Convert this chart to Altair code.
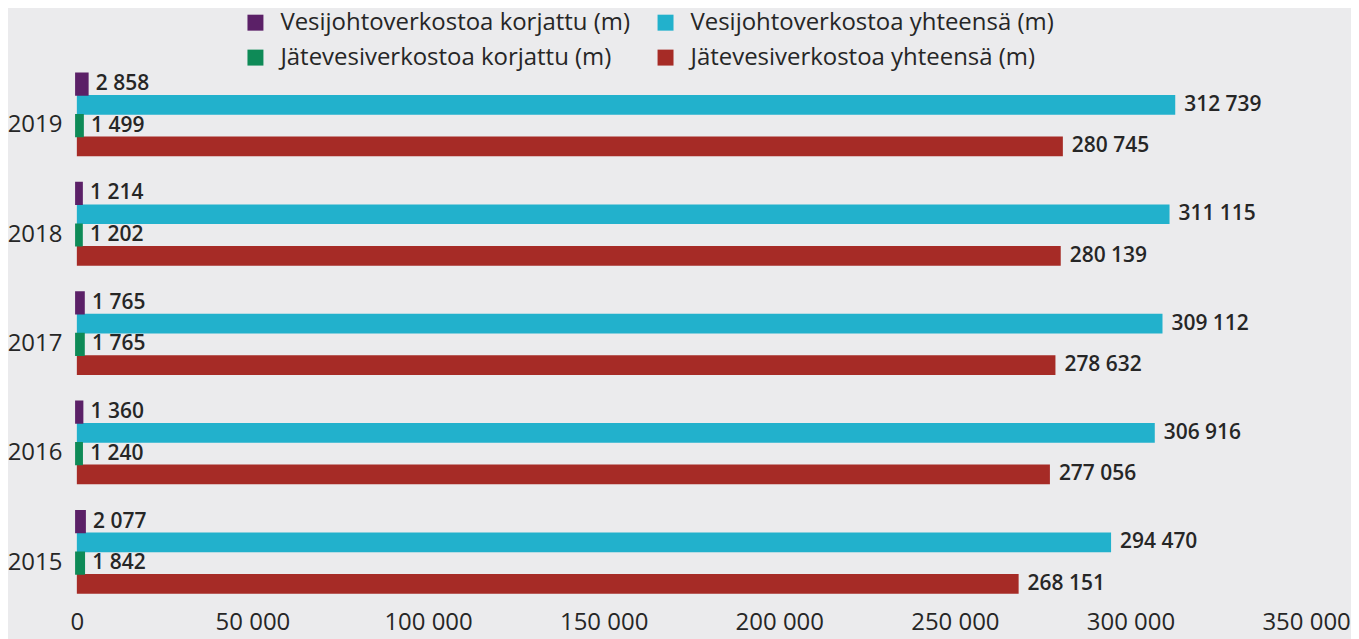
import altair as alt
import pandas as pd

years = ["2019", "2018", "2017", "2016", "2015"]
series = [
    "Vesijohtoverkostoa korjattu (m)",
    "Vesijohtoverkostoa yhteensä (m)",
    "Jätevesiverkostoa korjattu (m)",
    "Jätevesiverkostoa yhteensä (m)",
]
v_korjattu = [2858, 1214, 1765, 1360, 2077]
v_yhteensa = [312739, 311115, 309112, 306916, 294470]
j_korjattu = [1499, 1202, 1765, 1240, 1842]
j_yhteensa = [280745, 280139, 278632, 277056, 268151]
colors = ["#5b2067", "#22b1cc", "#0e8a57", "#a62b26"]
x_ticks = [0, 50000, 100000, 150000, 200000, 250000, 300000, 350000]

# legend is laid out column-major, so order domain for a row-wise reading
legend_order = [series[0], series[2], series[1], series[3]]
legend_colors = [colors[0], colors[2], colors[1], colors[3]]
small_series = [series[0], series[2]]

rows = []
for s, vals in zip(series, [v_korjattu, v_yhteensa, j_korjattu, j_yhteensa]):
    for y, v in zip(years, vals):
        rows.append({"year": y, "series": s, "value": v})
df = pd.DataFrame(rows)

FONT = "Open Sans"
TXT = "#262626"

color_enc = alt.Color(
    "series:N",
    sort=legend_order,
    scale=alt.Scale(domain=legend_order, range=legend_colors),
    legend=alt.Legend(
        title=None, orient="none", legendX=167, legendY=-50,
        columns=2, columnPadding=23, rowPadding=11,
        symbolType="square", symbolSize=256, symbolStrokeWidth=0,
        labelFontSize=24, labelFont=FONT, labelColor=TXT,
        labelOffset=13, labelLimit=0, padding=0,
    ),
)

x_enc = alt.X(
    "value:Q",
    title=None,
    scale=alt.Scale(domain=[0, 350000], nice=False),
    axis=alt.Axis(
        values=x_ticks, grid=False, ticks=False, domain=False,
        labelFontSize=24, labelColor=TXT, labelFont=FONT,
        labelPadding=3, labelFlush=False,
        labelExpr="replace(format(datum.value, ','), ',', ' ')",
    ),
)

base = alt.Chart(df).transform_calculate(
    label="replace(format(datum.value, ','), ',', ' ')"
).encode(
    y=alt.Y(
        "year:N",
        sort=years,
        title=None,
        scale=alt.Scale(domain=years, paddingInner=0.25, paddingOuter=0.125),
        axis=alt.Axis(
            ticks=False, domain=False, labelFontSize=24, labelColor=TXT,
            labelFont=FONT, labelPadding=15, labelOffset=10,
        ),
    ),
    yOffset=alt.YOffset(
        "series:N", sort=series,
        scale=alt.Scale(domain=series, paddingInner=0.05, paddingOuter=0),
    ),
)

big_bars = base.transform_filter(
    alt.FieldOneOfPredicate(field="series", oneOf=[series[1], series[3]])
).mark_bar().encode(x=x_enc, color=color_enc)

small_bars = base.transform_filter(
    alt.FieldOneOfPredicate(field="series", oneOf=small_series)
).mark_bar(strokeWidth=3.5, strokeJoin="miter").encode(
    x=x_enc,
    color=color_enc,
    stroke=alt.Stroke(
        "series:N",
        scale=alt.Scale(domain=legend_order, range=legend_colors),
        legend=None,
    ),
)

texts = base.mark_text(
    align="left", baseline="middle", dx=9, fontSize=21,
    fontWeight=600, font=FONT, color=TXT,
).encode(
    x="value:Q",
    text="label:N",
)

chart = (
    alt.layer(big_bars, small_bars, texts)
    .properties(
        width=1232, height=548,
        autosize=alt.AutoSizeParams(type="none"),
        padding={"left": 69, "top": 52, "right": 45, "bottom": 31},
        background="#ebebed",
    )
    .configure_view(stroke=None)
)

chart.save("out.html", embed_options={"renderer": "svg", "actions": False})
